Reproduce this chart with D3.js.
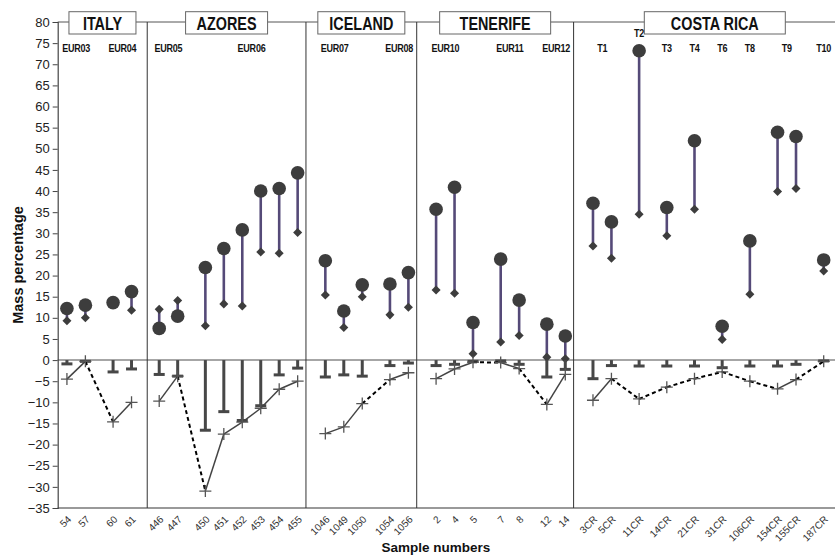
<!DOCTYPE html>
<html><head><meta charset="utf-8">
<script src="https://cdn.jsdelivr.net/npm/d3@7"></script>
<style>body{margin:0;background:#fff}svg{display:block;font-family:"Liberation Sans",Arial,sans-serif}</style>
</head><body><svg id="c" width="835" height="557"></svg>
<script>
// ---- data ----
const samples = ["54","57","60","61","446","447","450","451","452","453","454","455","1046","1049","1050","1054","1056","2","4","5","7","8","12","14","3CR","5CR","11CR","14CR","21CR","31CR","106CR","154CR","155CR","187CR"];
const slots   = [0,2,5,7,10,12,15,17,19,21,23,25,28,30,32,35,37,40,42,44,47,49,52,54,57,59,62,65,68,71,74,77,79,82];
const groupNames = ["ITALY","AZORES","ICELAND","TENERIFE","COSTA RICA"];
const groupSizes = [4,8,5,7,10];
const groupEnds = [8.7,25.9,37.9,54.9];
const upperValues = [12.2,13.0,13.6,16.2, 7.5,10.4,21.9,26.4,30.8,40.0,40.6,44.3, 23.5,11.6,17.8,18.0,20.7, 35.7,40.9,8.9,23.9,14.2,8.5,5.7, 37.1,32.7,73.2,36.1,51.9,8.0,28.2,53.9,52.9,23.7];
const lowerValues = [9.3,10.0,13.3,11.8, 12.0,14.1,8.1,13.3,12.8,25.6,25.3,30.2, 15.4,7.7,15.0,10.7,12.5, 16.6,15.8,1.5,4.3,5.8,0.7,0.3, 27.0,24.1,34.5,29.4,35.7,4.9,15.6,39.9,40.6,21.1];
const barValues = [-0.9,-0.3,-2.8,-2.1, -3.4,-3.8,-16.6,-12.2,-14.3,-10.8,-3.5,-1.9, -4.0,-3.5,-3.8,-1.3,-0.7, -1.3,-1.0,-0.3,-0.2,-1.0,-4.0,-2.2, -4.4,-1.3,-1.4,-1.4,-1.4,-1.8,-1.4,-1.4,-1.0,-0.2];
const crossValues = [-4.5,-0.3,-14.6,-10.0, -9.7,-3.8,-31.0,-17.5,-14.7,-11.4,-6.9,-5.0, -17.4,-15.8,-10.3,-4.6,-3.0, -4.4,-2.1,-0.5,-0.6,-2.0,-10.5,-3.4, -9.5,-4.4,-9.2,-6.4,-4.4,-2.8,-5.0,-6.8,-4.6,-0.3];
const subLabelTexts = ["EUR03","EUR04","EUR05","EUR06","EUR07","EUR08","EUR10","EUR11","EUR12","T1","T2","T3","T4","T6","T8","T9","T10"];
const subLabelSamples = [["54","57"],["60","61"],["446","447"],["450","451","452","453","454","455"],["1046","1049"],["1054","1056"],["2","4"],["7","8"],["12","14"],["3CR","5CR"],["11CR"],["14CR"],["21CR"],["31CR"],["106CR"],["154CR","155CR"],["187CR"]];
const yTicks = d3.range(-35, 81, 5);
const yTitle = "Mass percentage";
const xTitle = "Sample numbers";

// ---- layout ----
const L = 57.7, R = 856, T = 22, B = 508;
const boxWidths = [67, 82, 87, 111, 141];
const svg = d3.select("#c");
const x = d3.scaleLinear().domain([-1, 85.5]).range([L, R]);
const y = d3.scaleLinear().domain([-35, 80]).range([B, T]);
const groupIdx = [];
groupSizes.forEach((n, g) => { for (let i = 0; i < n; i++) groupIdx.push(g); });
const data = samples.map((s, i) => ({s, slot: slots[i], g: groupIdx[i], up: upperValues[i], lo: lowerValues[i], bar: barValues[i], cr: crossValues[i]}));
const xOf = s => x(slots[samples.indexOf(s)]);

// frame lines
svg.append("line").attr("x1", L).attr("x2", R).attr("y1", y(80)).attr("y2", y(80)).attr("stroke", "#555").attr("stroke-width", 1);
svg.append("line").attr("x1", L).attr("x2", R).attr("y1", y(-35)).attr("y2", y(-35)).attr("stroke", "#777").attr("stroke-width", 1.5);
svg.append("line").attr("x1", L).attr("x2", R).attr("y1", y(0)).attr("y2", y(0)).attr("stroke", "#888").attr("stroke-width", 1.5);
groupEnds.forEach(e => svg.append("line").attr("x1", x(e)).attr("x2", x(e)).attr("y1", T).attr("y2", B).attr("stroke", "#333").attr("stroke-width", 1));

// y axis
const ya = svg.append("g").attr("transform", `translate(${L},0)`).call(d3.axisLeft(y).tickValues(yTicks).tickSize(5).tickPadding(3).tickFormat(d3.format("d")));
ya.select(".domain").attr("stroke", "#444").attr("stroke-width", 1.2);
ya.selectAll(".tick line").attr("stroke", "#444");
ya.selectAll(".tick text").attr("font-size", 13).attr("fill", "#222").attr("font-family", "Liberation Sans, Arial");

// group boxes
const bounds = [L, ...groupEnds.map(e => x(e)), R];
groupNames.forEach((n, g) => {
  const cx = (bounds[g] + bounds[g + 1]) / 2, w = boxWidths[g];
  svg.append("rect").attr("x", cx - w / 2).attr("y", 11.7).attr("width", w).attr("height", 22.3).attr("fill", "#fff").attr("stroke", "#666").attr("stroke-width", 1);
  svg.append("text").attr("transform", `translate(${cx},29.5) scale(0.8,1)`).attr("text-anchor", "middle").attr("font-size", 18).attr("font-weight", "bold").attr("fill", "#111").text(n);
});

// sub labels
subLabelTexts.forEach((t, i) => {
  const ss = subLabelSamples[i];
  const cx = d3.mean(ss, s => xOf(s));
  const top = d3.min(ss, s => y(upperValues[samples.indexOf(s)]) - 7);
  const by = top < 58 ? 37 : 52;
  svg.append("text").attr("transform", `translate(${cx},${by}) scale(0.82,1)`).attr("text-anchor", "middle").attr("font-size", 11).attr("font-weight", "bold").attr("fill", "#111").attr("letter-spacing", -0.3).text(t);
});

// high-low purple lines
svg.append("g").selectAll("line").data(data).join("line")
  .attr("x1", d => x(d.slot)).attr("x2", d => x(d.slot)).attr("y1", d => y(d.up)).attr("y2", d => y(d.lo))
  .attr("stroke", "#554a78").attr("stroke-width", 2.6);
// diamonds
svg.append("g").selectAll("path").data(data).join("path")
  .attr("d", d3.symbol(d3.symbolDiamond2, 52)())
  .attr("transform", d => `translate(${x(d.slot)},${y(d.lo)})`).attr("fill", "#3d3d3d");
// circles
svg.append("g").selectAll("circle").data(data).join("circle")
  .attr("cx", d => x(d.slot)).attr("cy", d => y(d.up)).attr("r", 6.8).attr("fill", "#3d3d3d");

// negative bars
const nb = svg.append("g").attr("stroke", "#474747");
nb.selectAll("line.v").data(data).join("line").attr("class", "v")
  .attr("x1", d => x(d.slot)).attr("x2", d => x(d.slot)).attr("y1", y(0)).attr("y2", d => y(d.bar)).attr("stroke-width", 3);
nb.selectAll("line.h").data(data).join("line").attr("class", "h")
  .attr("x1", d => x(d.slot) - 5.5).attr("x2", d => x(d.slot) + 5.5).attr("y1", d => y(d.bar)).attr("y2", d => y(d.bar)).attr("stroke-width", 3);

// cross line segments
const seg = svg.append("g");
for (let i = 1; i < data.length; i++) {
  const a = data[i - 1], b = data[i];
  if (a.g !== b.g) continue;
  const dashed = b.slot - a.slot > 2;
  seg.append("line").attr("x1", x(a.slot)).attr("y1", y(a.cr)).attr("x2", x(b.slot)).attr("y2", y(b.cr))
    .attr("stroke", dashed ? "#000" : "#444").attr("stroke-width", dashed ? 2 : 1.5)
    .attr("stroke-dasharray", dashed ? "4,3" : null);
}
// plus markers
svg.append("g").selectAll("path").data(data).join("path")
  .attr("d", "M-6,0H6M0,-6V6")
  .attr("transform", d => `translate(${x(d.slot)},${y(d.cr)})`).attr("stroke", "#555").attr("stroke-width", 1.3).attr("fill", "none");

// x tick labels
svg.append("g").selectAll("text").data(data).join("text")
  .attr("transform", d => `translate(${x(d.slot) + 5},${B + 12}) rotate(-45)`)
  .attr("text-anchor", "end").attr("font-size", 10).attr("fill", "#333").text(d => d.s);

// titles
svg.append("text").attr("transform", `translate(23,${(T + B) / 2}) rotate(-90)`).attr("text-anchor", "middle")
  .attr("font-size", 14.5).attr("font-weight", "bold").attr("fill", "#111").text(yTitle);
svg.append("text").attr("x", 436).attr("y", 552).attr("text-anchor", "middle")
  .attr("font-size", 13.5).attr("font-weight", "bold").attr("fill", "#111").text(xTitle);
</script></body></html>
